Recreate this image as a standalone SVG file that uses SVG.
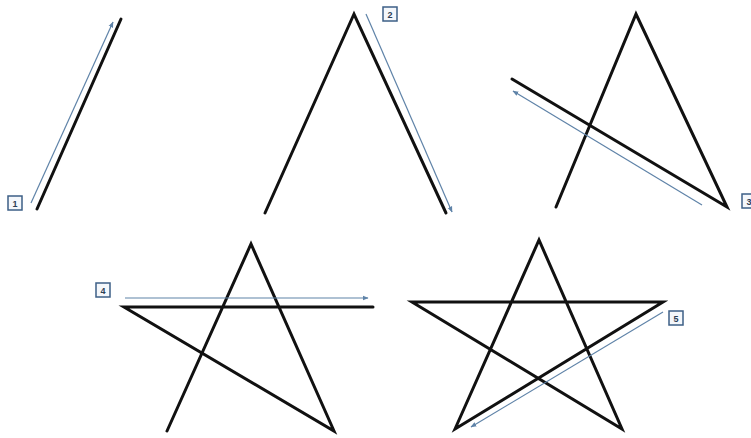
<svg xmlns="http://www.w3.org/2000/svg" width="751" height="438" viewBox="0 0 751 438">
<style>
.stroke{fill:none;stroke:#111;stroke-width:3;stroke-linecap:round;stroke-linejoin:miter}
.guide{fill:none;stroke:#5f83a8;stroke-width:1.2;marker-end:url(#ah)}
.lbl rect{fill:#f4f7fb;stroke:#3d5f86;stroke-width:1.5}
.lbl text{font-family:"Liberation Sans",Arial,sans-serif;font-size:9px;font-weight:bold;fill:#2c3e55;text-anchor:middle}
</style>
<defs>
<marker id="ah" viewBox="0 0 10 10" refX="9" refY="5" markerWidth="6" markerHeight="6" orient="auto" markerUnits="userSpaceOnUse">
<path d="M0,1 L10,5 L0,9 z" fill="#5f83a8"/>
</marker>
</defs>
<rect width="751" height="438" fill="#fff"/>
<g id="step1">
<polyline class="stroke" points="37,209 121,19"/>
</g>
<g id="step2">
<polyline class="stroke" points="265,213 354,14 446,213"/>
</g>
<g id="step3">
<polyline class="stroke" points="556,207 636,14 727,207 512,79"/>
</g>
<g id="step4">
<polyline class="stroke" points="167,431 251,244 334,431 124,307 373,307"/>
</g>
<g id="step5">
<polygon class="stroke" points="455,429 539,240 622,429 412,302 663,302"/>
</g>
<g id="connectors">
<line class="guide" x1="31" y1="203" x2="113" y2="22"/>
<line class="guide" x1="366" y1="14" x2="452" y2="212"/>
<line class="guide" x1="702" y1="205" x2="513" y2="91"/>
<line class="guide" x1="125" y1="298" x2="368" y2="298"/>
<line class="guide" x1="663" y1="312" x2="471" y2="427"/>
</g>
<g id="label1" class="lbl"><rect x="8" y="196" width="14" height="14"/><text x="15" y="206.5">1</text></g>
<g id="label2" class="lbl"><rect x="383" y="7" width="14" height="14"/><text x="390" y="17.5">2</text></g>
<g id="label3" class="lbl"><rect x="742" y="194" width="14" height="14"/><text x="749" y="204.5">3</text></g>
<g id="label4" class="lbl"><rect x="96" y="283" width="14" height="14"/><text x="103" y="293.5">4</text></g>
<g id="label5" class="lbl"><rect x="669" y="311" width="14" height="14"/><text x="676" y="321.5">5</text></g>
</svg>
